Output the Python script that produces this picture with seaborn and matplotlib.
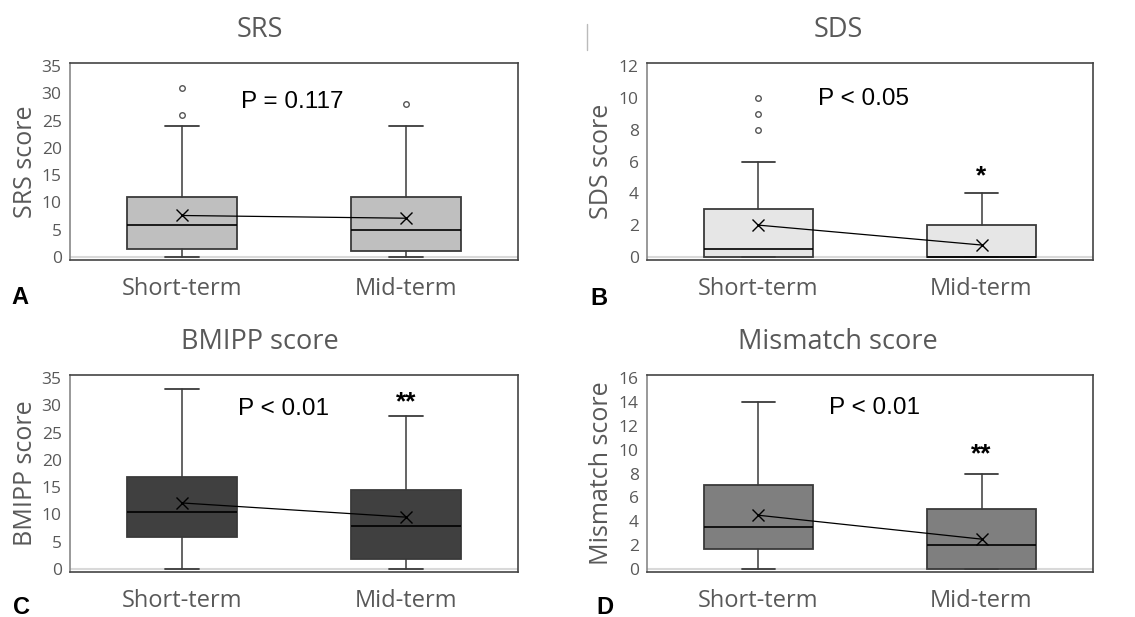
import matplotlib
matplotlib.use("Agg")
import matplotlib.pyplot as plt
import seaborn as sns
import pandas as pd
from matplotlib.lines import Line2D

# ---------------- data ----------------
groups = ["Short-term", "Mid-term"]

titles = ["SRS", "SDS", "BMIPP score", "Mismatch score"]
ylabels = ["SRS score", "SDS score", "BMIPP score", "Mismatch score"]
ymax = [35, 12, 35, 16]
ystep = [5, 2, 5, 2]

whislo = [[0, 0], [0, 0], [0, 0], [0, 0]]
q1 = [[1.5, 1.0], [0, 0], [5.8, 1.8], [1.7, 0]]
med = [[5.8, 5.0], [0.5, 0], [10.5, 7.8], [3.5, 2.0]]
q3 = [[11, 11], [3, 2], [16.8, 14.5], [7, 5]]
whishi = [[24, 24], [6, 4], [33, 28], [14, 8]]
means = [[7.6, 7.1], [2.0, 0.75], [12.1, 9.5], [4.5, 2.5]]
fliers = [[[26, 31], [28]], [[8, 9, 10], []], [[], []], [[], []]]

pvals = ["P = 0.117", "P < 0.05", "P < 0.01", "P < 0.01"]
p_pos = [(0.49, 28.5), (0.47, 9.9), (0.455, 29.4), (0.52, 13.5)]
stars = ["", "*", "**", "**"]
star_y = [0, 4.3, 28.3, 8.6]

fills = ["#bfbfbf", "#e6e6e6", "#404040", "#7f7f7f"]
letters = ["A", "B", "C", "D"]

# ---------------- layout ----------------
W, H = 1135, 617
sns.set_theme(style="white")
plt.rcParams["font.family"] = ["Open Sans", "DejaVu Sans"]
fig = plt.figure(figsize=(W / 100, H / 100), dpi=100)

boxes_px = [(70, 518, 63, 260), (647, 1093, 63, 260),
            (70, 518, 375, 572), (647, 1093, 375, 572)]
title_px = [(260, 30), (838, 30), (260, 342), (838, 342)]
letter_px = [(20, 298), (599, 299), (21, 607), (605, 607)]

gray_txt = "#595959"
edge = "#3a3a3a"

for i in range(4):
    l, r, t, b = boxes_px[i]
    ax = fig.add_axes([l / W, 1 - b / H, (r - l) / W, (b - t) / H])
    stats = []
    for j in range(2):
        stats.append(dict(whislo=whislo[i][j], q1=q1[i][j], med=med[i][j],
                          q3=q3[i][j], whishi=whishi[i][j], fliers=fliers[i][j],
                          label=groups[j]))
    ax.bxp(stats, positions=[0, 1], widths=0.49, capwidths=0.15,
           showfliers=True, patch_artist=True,
           boxprops=dict(facecolor=fills[i], edgecolor=edge, linewidth=1.3),
           medianprops=dict(color="black", linewidth=1.2),
           whiskerprops=dict(color=edge, linewidth=1.1),
           capprops=dict(color=edge, linewidth=1.3),
           flierprops=dict(marker="o", markersize=4, markerfacecolor="white",
                           markeredgecolor="#555555", markeredgewidth=1.0))
    df = pd.DataFrame({"x": [0, 1], "mean": means[i][:]})
    sns.lineplot(data=df, x="x", y="mean", ax=ax, color="black", linewidth=0.9,
                 marker="x", markersize=8, markeredgewidth=1.0,
                 markeredgecolor="black", zorder=5)
    ax.axhline(0, color="#d9d9d9", linewidth=1.5, zorder=0)
    ax.set_xlim(-0.5, 1.5)
    ax.set_ylim(-ymax[i] * 0.016, ymax[i] * 1.016)
    ax.set_yticks(range(0, ymax[i] + 1, ystep[i]))
    ax.set_xticks([0, 1])
    ax.set_xticklabels(groups)
    ax.set_xlabel("")
    ax.set_ylabel(ylabels[i], fontsize=18, color=gray_txt, labelpad=3)
    ax.tick_params(axis="y", labelsize=12.5, colors=gray_txt, length=0, pad=6)
    ax.tick_params(axis="x", labelsize=17, colors=gray_txt, length=0, pad=12)
    for s in ax.spines.values():
        s.set_color("#444444")
        s.set_linewidth(1.2)
    ax.spines["left"].set_color("#888888")
    ax.text(p_pos[i][0], p_pos[i][1], pvals[i], fontsize=17.5, ha="center",
            va="center", color="black", family=["Liberation Sans", "DejaVu Sans"])
    if stars[i]:
        ax.text(1, star_y[i], stars[i], fontsize=19, ha="center", va="bottom",
                fontweight="bold", color="black",
                family=["Liberation Sans", "DejaVu Sans"])
    tx, ty = title_px[i]
    fig.text(tx / W, 1 - ty / H, titles[i], fontsize=19.5, ha="center",
             va="center", color=gray_txt)
    lx, ly = letter_px[i]
    fig.text(lx / W, 1 - ly / H, letters[i], fontsize=17, fontweight="bold",
             ha="center", va="center", color="black",
             family=["Liberation Sans", "DejaVu Sans"])

fig.add_artist(Line2D([587 / W, 587 / W], [1 - 24 / H, 1 - 50 / H],
                      color="#bbbbbb", linewidth=1.0))

fig.savefig("out.png", dpi=100)
